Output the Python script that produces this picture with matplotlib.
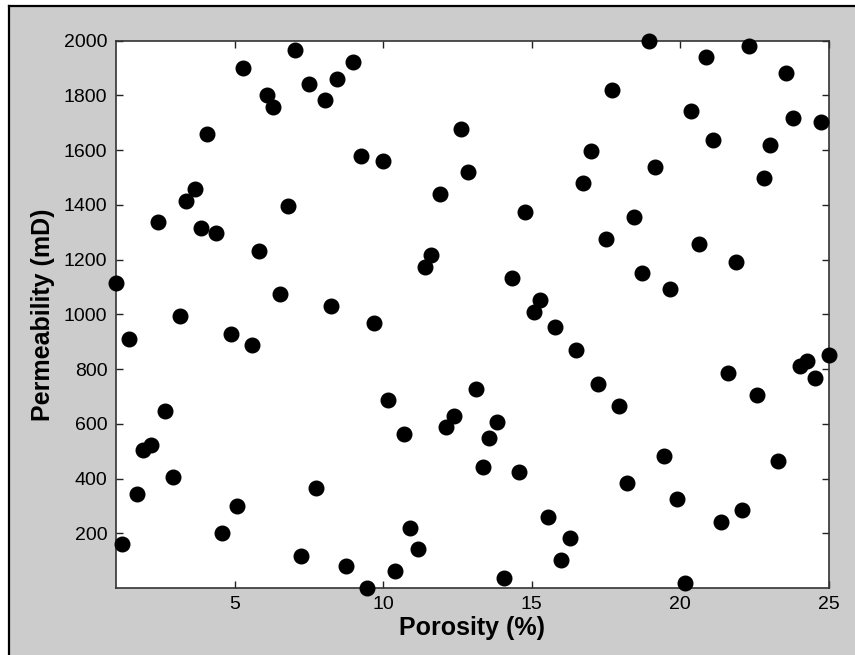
import matplotlib
matplotlib.use("Agg")
import matplotlib.pyplot as plt
from matplotlib.patches import Rectangle
from matplotlib.lines import Line2D

porosity = [1.00, 1.21, 1.45, 1.71, 1.93, 2.18, 2.44, 2.66, 2.94, 3.17,
            3.37, 3.67, 3.88, 4.09, 4.37, 4.59, 4.89, 5.10, 5.30, 5.60,
            5.82, 6.09, 6.31, 6.53, 6.81, 7.03, 7.25, 7.52, 7.75, 8.04,
            8.25, 8.46, 8.75, 8.97, 9.25, 9.45, 9.68, 9.98, 10.18, 10.41,
            10.69, 10.89, 11.16, 11.42, 11.62, 11.92, 12.11, 12.39, 12.63, 12.85,
            13.12, 13.35, 13.57, 13.83, 14.05, 14.34, 14.56, 14.78, 15.06, 15.27,
            15.54, 15.79, 16.00, 16.27, 16.50, 16.71, 17.00, 17.22, 17.50, 17.70,
            17.95, 18.22, 18.43, 18.71, 18.94, 19.16, 19.44, 19.64, 19.87, 20.15,
            20.37, 20.64, 20.87, 21.09, 21.37, 21.60, 21.88, 22.08, 22.30, 22.59,
            22.81, 23.01, 23.29, 23.54, 23.80, 24.01, 24.25, 24.53, 24.74, 25.00]

permeability = [1115, 159, 910, 342, 505, 524, 1337, 647, 405, 995,
                1413, 1457, 1314, 1659, 1298, 200, 927, 301, 1901, 887,
                1232, 1802, 1759, 1074, 1397, 1966, 118, 1842, 365, 1783,
                1031, 1860, 79, 1923, 1578, 0, 969, 1560, 688, 62,
                564, 219, 143, 1174, 1216, 1438, 588, 628, 1677, 1519,
                729, 442, 548, 605, 37, 1133, 424, 1374, 1009, 1052,
                259, 952, 103, 184, 869, 1479, 1597, 747, 1274, 1819,
                664, 384, 1356, 1152, 2000, 1539, 484, 1092, 324, 19,
                1743, 1256, 1942, 1637, 242, 787, 1192, 284, 1982, 704,
                1497, 1619, 464, 1883, 1719, 810, 829, 769, 1702, 853]

x_ticks = [5, 10, 15, 20, 25]
y_ticks = [200, 400, 600, 800, 1000, 1200, 1400, 1600, 1800, 2000]

W, H = 855, 655
fig = plt.figure(figsize=(W / 100, H / 100), dpi=100)
fig.patch.set_facecolor("white")

# grey panel with partial black frame (top and left)
fig.patches.append(Rectangle((9 / W, -0.1), 1.2, 1.1 - 6 / H,
                             transform=fig.transFigure, facecolor="#cccccc",
                             edgecolor="none", zorder=-10))
fig.lines.append(Line2D([9 / W, 1.0], [1 - 6 / H, 1 - 6 / H], transform=fig.transFigure,
                        color="black", lw=1.6, zorder=-5))
fig.lines.append(Line2D([9 / W, 9 / W], [0, 1 - 6 / H], transform=fig.transFigure,
                        color="black", lw=1.6, zorder=-5))

ax = fig.add_axes([115.6 / W, 1 - 588 / H, (829 - 115.6) / W, (588 - 40.7) / H])
ax.set_zorder(5)
ax.set_facecolor("white")
ax.plot(porosity, permeability, linestyle="none", marker="o", markersize=10.5,
        markerfacecolor="black", markeredgecolor="black", clip_on=False, zorder=3)

ax.set_xlim(1, 25)
ax.set_ylim(0, 2000)
ax.set_xticks(x_ticks)
ax.set_yticks(y_ticks)
ax.tick_params(direction="in", length=5, width=1, top=True, right=True,
               labelsize=14, pad=6, colors="#222222")
for lab in ax.get_xticklabels() + ax.get_yticklabels():
    lab.set_family("Liberation Sans")
    lab.set_color("black")
for s in ax.spines.values():
    s.set_linewidth(1.2)
    s.set_color("#333333")

ax.set_xlabel("Porosity (%)", fontsize=18, fontweight="bold",
              family="Liberation Sans", labelpad=2)
ax.set_ylabel("Permeability (mD)", fontsize=18, fontweight="bold",
              family="Liberation Sans", labelpad=6)

fig.savefig("out.png", dpi=100, facecolor=fig.get_facecolor())
